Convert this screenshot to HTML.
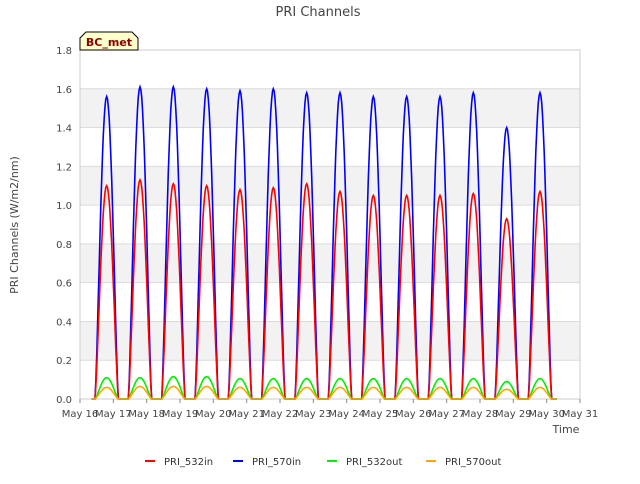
<!DOCTYPE html>
<html><head><meta charset="utf-8"><style>
body{margin:0;background:#fff;font-family:"DejaVu Sans","Liberation Sans",sans-serif;}
svg text{font-family:"DejaVu Sans","Liberation Sans",sans-serif;}
</style></head><body>
<svg id="chart" width="640" height="480">
<text x="318" y="16" font-size="13" fill="#444" text-anchor="middle">PRI Channels</text>
<g id="bands"></g>
<g id="axes"></g>
<g id="series"></g>
<g>
<path d="M80,50 L80,38 L86,32 L132,32 L138,38 L138,50 Z" fill="#ffffcc" stroke="#000" stroke-width="1"/>
<text x="109" y="46" font-size="11" font-weight="bold" fill="#8b0000" text-anchor="middle">BC_met</text>
</g>
<text x="18" y="225" font-size="11" fill="#444" text-anchor="middle" transform="rotate(-90 18 225)">PRI Channels (W/m2/nm)</text>
<text x="566" y="433" font-size="11" fill="#444" text-anchor="middle">Time</text>
<g id="legend"></g>
</svg>
<script>
const dayLabels=["May 16","May 17","May 18","May 19","May 20","May 21","May 22","May 23","May 24","May 25","May 26","May 27","May 28","May 29","May 30","May 31"];
const yTicks=[0.0,0.2,0.4,0.6,0.8,1.0,1.2,1.4,1.6,1.8];
const peak570in=[1.56,1.61,1.61,1.60,1.59,1.60,1.58,1.58,1.56,1.56,1.56,1.58,1.40,1.58];
const peak532in=[1.10,1.13,1.11,1.10,1.08,1.09,1.11,1.07,1.05,1.05,1.05,1.06,0.93,1.07];
const peak532out=[0.11,0.11,0.115,0.115,0.105,0.105,0.105,0.105,0.105,0.105,0.105,0.105,0.09,0.105];
const peak570out=[0.06,0.065,0.065,0.065,0.06,0.06,0.06,0.06,0.06,0.06,0.06,0.06,0.05,0.06];
const seriesNames=["PRI_532in","PRI_570in","PRI_532out","PRI_570out"];
const seriesColors=["#ff0000","#0000ff","#00ee00","#ffa500"];
const X0=80,X1=580,Y0=399,Y1=50;
const xs=d=>X0+(X1-X0)*d/15;
const ys=v=>Y0-(Y0-Y1)*v/1.8;
const NS="http://www.w3.org/2000/svg";
function mk(t,a,p){const e=document.createElementNS(NS,t);for(const k in a)e.setAttribute(k,a[k]);p.appendChild(e);return e;}
const bands=document.getElementById('bands'),axes=document.getElementById('axes'),ser=document.getElementById('series'),leg=document.getElementById('legend');
for(let i=1;i<yTicks.length-1;i+=2){
 const r=mk('rect',{x:X0,y:ys(yTicks[i+1]),width:X1-X0,height:ys(yTicks[i])-ys(yTicks[i+1]),fill:'#f2f2f2'},bands);
 
 
}
yTicks.forEach(v=>{
 mk('line',{x1:X0,x2:X1,y1:ys(v),y2:ys(v),stroke:'#dcdcdc'},axes);
 const t=mk('text',{x:X0-8,y:ys(v)+4,'font-size':10,fill:'#444','text-anchor':'end'},axes);
 t.textContent=v.toFixed(1);
 
 
});
mk('rect',{x:X0,y:Y1,width:X1-X0,height:Y0-Y1,fill:'none',stroke:'#ccc'},axes);
dayLabels.forEach((l,i)=>{
 mk('line',{x1:xs(i),x2:xs(i),y1:Y0,y2:Y0+4,stroke:'#888'},axes);
 const t=mk('text',{x:xs(i),y:Y0+18,'font-size':10,fill:'#444','text-anchor':'middle'},axes);
 t.textContent=l;
 
 
});
const peaks=[peak532in,peak570in,peak532out,peak570out];
[1,0,2,3].forEach(s=>{
 let pts=[];
 pts.push([xs(0.35),ys(0)]);
 peaks[s].forEach((p,d)=>{
  const st=d+0.45,w=0.7;
  pts.push([xs(st),ys(0)]);
  for(let k=0;k<=28;k++){const f=k/28;pts.push([xs(st+w*f),ys(p*Math.pow(Math.sin(Math.PI*f),1.3))]);}
  pts.push([xs(st+w+0.05),ys(0)]);
 });
 pts.push([xs(14.3),ys(0)]);
 const pl=mk('polyline',{points:pts.map(q=>q[0].toFixed(1)+','+q[1].toFixed(1)).join(' '),fill:'none',stroke:seriesColors[s],'stroke-width':1.6},ser);
 
 
});
const lx=[145,233,327,426];
seriesNames.forEach((n,i)=>{
 const g=mk('g',{},leg);
 
 
 mk('line',{x1:lx[i],x2:lx[i]+10,y1:461,y2:461,stroke:seriesColors[i],'stroke-width':2},g);
 const t=mk('text',{x:lx[i]+19,y:465,'font-size':10,fill:'#333'},g);t.textContent=n;
});
</script>
</body></html>
